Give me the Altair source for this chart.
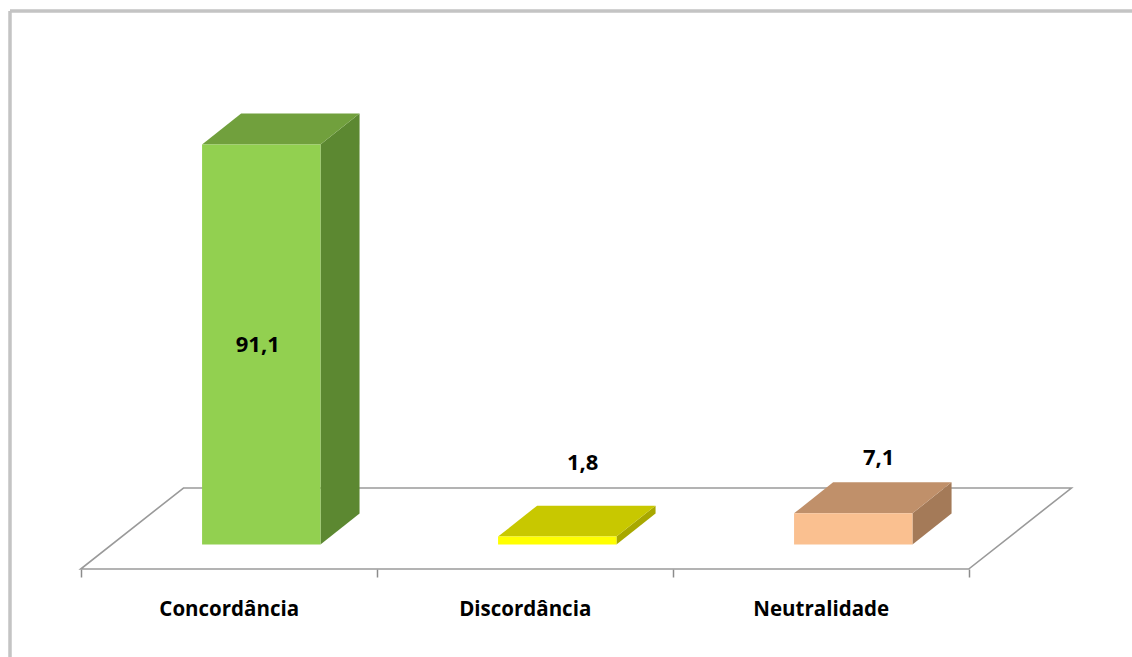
import altair as alt
import pandas as pd

# ---- data ----
categories = ["Concordância", "Discordância", "Neutralidade"]
values = [91.1, 1.8, 7.1]
value_labels = ["91,1", "1,8", "7,1"]
front_colors = ["#92D050", "#FFFF00", "#FAC090"]
top_colors = ["#71A03D", "#C8C800", "#C0906A"]
side_colors = ["#5C8831", "#A8A800", "#A47A58"]

# ---- 3D geometry (style) ----
BAR_OFFSET = 0.41      # front face left edge inside a category slot
BAR_WIDTH = 0.40
DEPTH_X = 0.132        # depth projection, x units
DEPTH_Y = 7.06         # depth projection, value units
FLOOR_FRONT = -5.58
FLOOR_BACK = 12.87
FLOOR_SHIFT = 0.347
X_DOMAIN = [-0.2389, 3.5517]
Y_DOMAIN = [-25.62, 121.53]
W, H = 1122, 646

xs = alt.Scale(domain=X_DOMAIN, nice=False, zero=False)
ys = alt.Scale(domain=Y_DOMAIN, nice=False, zero=False)

names_js = "[" + ",".join("'" + c + "'" for c in categories) + "]"
X_AXIS = alt.Axis(
    values=[0, 0.5, 1, 1.5, 2, 2.5, 3],
    title=None, grid=False, domain=False,
    tickSize=8, tickColor="#8C8C8C", tickWidth=1.5,
    tickOpacity={"condition": {"test": "datum.value % 1 != 0", "value": 0}, "value": 1},
    labelExpr=f"datum.value % 1 == 0 ? '' : {names_js}[floor(datum.value)]",
    labelOverlap=False, labelFlush=False,
    labelFont="Open Sans", labelFontWeight="bold", labelFontSize=20.5, labelColor="#000000",
    labelBaseline="middle", labelPadding=32, offset=-88,
)

# floor
floor = pd.DataFrame({
    "fy": [FLOOR_FRONT, FLOOR_BACK],
    "fx": [0, FLOOR_SHIFT],
    "fx2": [len(categories), len(categories) + FLOOR_SHIFT],
})

fronts, tops, sides, labs = [], [], [], []
for i, (c, v) in enumerate(zip(categories, values)):
    left = i + BAR_OFFSET
    right = left + BAR_WIDTH
    fronts.append({"cat": c, "x": left, "x2": right, "y": 0, "y2": v, "col": front_colors[i]})
    tops.append({"cat": c, "y": v, "x": left, "x2": right, "col": top_colors[i]})
    tops.append({"cat": c, "y": v + DEPTH_Y, "x": left + DEPTH_X, "x2": right + DEPTH_X, "col": top_colors[i]})
    sides.append({"cat": c, "x": right, "y": 0, "y2": v, "col": side_colors[i]})
    sides.append({"cat": c, "x": right + DEPTH_X, "y": DEPTH_Y, "y2": v + DEPTH_Y, "col": side_colors[i]})
    if v > 20:
        labs.append({"x": left + BAR_WIDTH / 2 - 0.012, "y": v / 2, "t": value_labels[i]})
    else:
        labs.append({"x": left + BAR_WIDTH / 2 + DEPTH_X / 2 + 0.02,
                     "y": max(v + DEPTH_Y, FLOOR_BACK) + 5.6, "t": value_labels[i]})

fronts = pd.DataFrame(fronts)
tops = pd.DataFrame(tops)
sides = pd.DataFrame(sides)
labs = pd.DataFrame(labs)

frame_left = alt.Chart(floor).mark_rule(color="#C4C4C4", strokeWidth=3).encode(
    x=alt.value(0), y=alt.value(0), y2=alt.value(H))
frame_top = alt.Chart(floor).mark_rule(color="#C4C4C4", strokeWidth=3).encode(
    y=alt.value(0), x=alt.value(0), x2=alt.value(W))

floor_layer = alt.Chart(floor).mark_area(
    orient="horizontal", fill="#FFFFFF", stroke="#9A9A9A", strokeWidth=1.6
).encode(
    y=alt.Y("fy:Q", scale=ys, axis=None, stack=None),
    x=alt.X("fx:Q", scale=xs, axis=X_AXIS),
    x2="fx2:Q",
)

side_layer = alt.Chart(sides).mark_area().encode(
    x=alt.X("x:Q", scale=xs, axis=X_AXIS),
    y=alt.Y("y:Q", scale=ys, axis=None, stack=None),
    y2="y2:Q",
    detail="cat:N",
    color=alt.Color("col:N", scale=None),
)

top_layer = alt.Chart(tops).mark_area(orient="horizontal").encode(
    y=alt.Y("y:Q", scale=ys, axis=None, stack=None),
    x=alt.X("x:Q", scale=xs, axis=X_AXIS, stack=None),
    x2="x2:Q",
    detail="cat:N",
    color=alt.Color("col:N", scale=None),
)

front_layer = alt.Chart(fronts).mark_bar().encode(
    x=alt.X("x:Q", scale=xs, axis=X_AXIS),
    x2="x2:Q",
    y=alt.Y("y:Q", scale=ys, axis=None),
    y2="y2:Q",
    color=alt.Color("col:N", scale=None),
)

label_layer = alt.Chart(labs).mark_text(
    font="Open Sans", fontWeight="bold", fontSize=22, color="#000000",
    align="center", baseline="middle"
).encode(
    x=alt.X("x:Q", scale=xs, axis=X_AXIS),
    y=alt.Y("y:Q", scale=ys, axis=None),
    text="t:N",
)

chart = alt.layer(
    floor_layer, side_layer, top_layer, front_layer, label_layer, frame_left, frame_top
).properties(
    width=W, height=H,
    autosize=alt.AutoSizeParams(type="none"),
    padding={"left": 10, "top": 11, "right": 0, "bottom": 0},
    background="#FFFFFF",
).configure_view(stroke=None)

chart.save("out.html", embed_options={"renderer": "svg", "actions": False})
